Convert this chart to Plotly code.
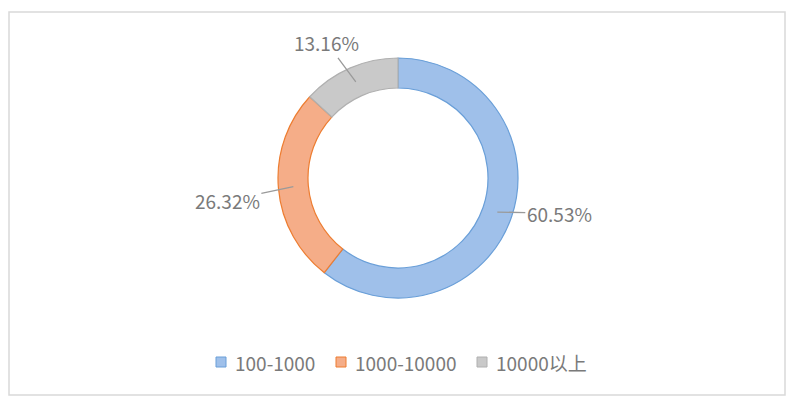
import math
import plotly.graph_objects as go

categories = ["100-1000", "1000-10000", "10000以上"]
shares = [60.53, 26.32, 13.16]
label_texts = ["60.53%", "26.32%", "13.16%"]

fill_colors = ["#9fc0ea", "#f5ad88", "#c9c9c9"]
line_colors = ["#6a9fd8", "#ed7d31", "#b0b0b0"]

# page has 8px body margin; work in page pixels and convert
OFF = 8
W, H = 790, 399


def fx(px):
    return (px - OFF) / W


def fy(py):
    return (H - (py - OFF)) / H


cx, cy, R_mid = 398, 178, 105  # ring geometry (page px)
offsets = [(62, 1), (-66, 14), (-29, -39)]  # label offsets from ring anchors
FONT = "Noto Sans CJK SC, Open Sans, sans-serif"
TXT = "#7a7a7a"

fig = go.Figure(go.Pie(
    labels=categories,
    values=shares,
    hole=0.75,
    sort=False,
    direction="clockwise",
    rotation=0,
    textinfo="none",
    hoverinfo="label+percent",
    showlegend=False,
    marker=dict(colors=fill_colors, line=dict(color=line_colors, width=1.2)),
    domain=dict(x=[fx(278), fx(518)], y=[fy(298), fy(58)]),
))

total = sum(shares)
start = 0.0
annotations = []
for v, txt, (ax, ay) in zip(shares, label_texts, offsets):
    mid = start + v / total * 360 / 2
    start += v / total * 360
    a = math.radians(mid)
    px = cx + R_mid * math.sin(a)
    py = cy - R_mid * math.cos(a)
    annotations.append(dict(
        x=fx(px), y=fy(py), xref="paper", yref="paper",
        text=txt, showarrow=True, arrowhead=0, arrowwidth=1.3,
        arrowcolor="#9a9a9a", ax=ax, ay=ay, standoff=0,
        font=dict(size=19, color=TXT, family=FONT),
    ))

# custom legend (square + text) in page px
legend_sq_x = [216, 336, 477]
legend_y = 362
shapes = [dict(
    type="rect", xref="paper", yref="paper",
    x0=fx(9), x1=fx(785), y0=fy(395), y1=fy(12),
    line=dict(color="#d9d9d9", width=1.5),
)]
for cat, sx, fc, lc in zip(categories, legend_sq_x, fill_colors, line_colors):
    shapes.append(dict(
        type="rect", xref="paper", yref="paper",
        x0=fx(sx), x1=fx(sx + 10), y0=fy(legend_y + 5), y1=fy(legend_y - 5),
        fillcolor=fc, line=dict(color=lc, width=1),
    ))
    annotations.append(dict(
        x=fx(sx + 17), y=fy(legend_y), xref="paper", yref="paper",
        xanchor="left", yanchor="middle", showarrow=False, text=cat,
        font=dict(size=19, color=TXT, family=FONT),
    ))

fig.update_layout(
    width=W, height=H,
    margin=dict(l=0, r=0, t=0, b=0),
    paper_bgcolor="white",
    plot_bgcolor="white",
    showlegend=False,
    annotations=annotations,
    shapes=shapes,
)

fig.write_html("out.html")
